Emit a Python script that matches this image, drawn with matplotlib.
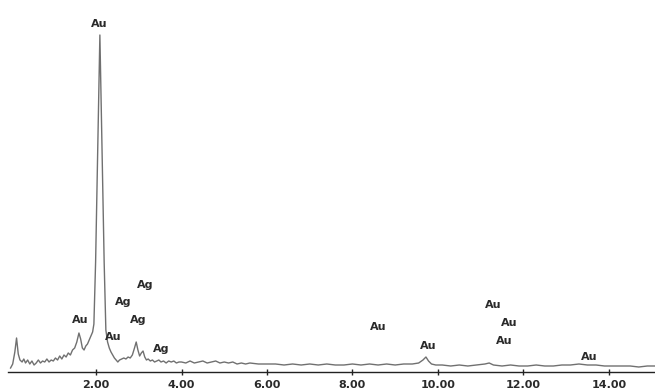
import matplotlib
matplotlib.use("Agg")
import matplotlib.pyplot as plt

energy = [0.00, 0.05, 0.10, 0.14, 0.18, 0.22, 0.27, 0.31, 0.35, 0.40, 0.45, 0.50, 0.55, 0.60,
          0.65, 0.70, 0.75, 0.80, 0.85, 0.90, 0.95, 1.00, 1.05, 1.10, 1.15, 1.20, 1.25, 1.30,
          1.35, 1.40, 1.45, 1.50, 1.55, 1.60, 1.64, 1.68, 1.72, 1.76, 1.80, 1.84, 1.88, 1.92,
          1.95, 1.99, 2.03, 2.06, 2.09, 2.12, 2.15, 2.19, 2.23, 2.27, 2.31, 2.35, 2.39, 2.43,
          2.47, 2.51, 2.55, 2.60, 2.65, 2.70, 2.75, 2.80, 2.85, 2.90, 2.94, 2.98, 3.02, 3.06,
          3.10, 3.14, 3.18, 3.22, 3.27, 3.32, 3.37, 3.42, 3.47, 3.52, 3.58, 3.64, 3.70, 3.76,
          3.82, 3.88, 3.94, 4.00, 4.10, 4.20, 4.30, 4.40, 4.50, 4.60, 4.70, 4.80, 4.90, 5.00,
          5.10, 5.20, 5.30, 5.40, 5.50, 5.60, 5.80, 6.00, 6.20, 6.40, 6.60, 6.80, 7.00, 7.20,
          7.40, 7.60, 7.80, 8.00, 8.20, 8.40, 8.60, 8.80, 9.00, 9.20, 9.40, 9.55, 9.65, 9.72,
          9.78, 9.85, 9.95, 10.10, 10.30, 10.50, 10.70, 10.90, 11.10, 11.20, 11.30, 11.50,
          11.70, 11.90, 12.10, 12.30, 12.50, 12.70, 12.90, 13.10, 13.30, 13.50, 13.70, 13.90,
          14.10, 14.30, 14.50, 14.70, 14.90, 15.10]
counts = [4, 8, 20, 34, 18, 12, 10, 13, 9, 12, 8, 11, 7, 9,
          12, 9, 11, 10, 13, 10, 12, 11, 14, 12, 16, 13, 17, 15,
          19, 17, 22, 24, 30, 39, 33, 24, 22, 26, 28, 32, 36, 40,
          48, 110, 200, 270, 337, 270, 200, 110, 42, 30, 24, 20, 17, 14,
          12, 10, 12, 13, 14, 13, 15, 14, 17, 24, 30, 22, 16, 19,
          21, 15, 12, 13, 11, 12, 10, 11, 12, 10, 11, 9, 11, 10,
          11, 9, 10, 10, 9, 11, 9, 10, 11, 9, 10, 11, 9, 10,
          9, 10, 8, 9, 8, 9, 8, 8, 8, 7, 8, 7, 8, 7,
          8, 7, 7, 8, 7, 8, 7, 8, 7, 8, 8, 9, 12, 15,
          11, 8, 7, 7, 6, 7, 6, 7, 8, 9, 7, 6,
          7, 6, 6, 7, 6, 6, 7, 7, 8, 7, 7, 6,
          6, 6, 6, 5, 6, 6]

label_text = ["Au", "Au", "Au", "Ag", "Ag", "Ag", "Ag", "Au", "Au", "Au", "Au", "Au", "Au"]
label_x = [2.07, 1.63, 2.40, 2.63, 3.15, 2.98, 3.52, 8.60, 9.77, 11.29, 11.66, 11.54, 13.53]
label_y = [348, 52, 35, 70, 87, 52, 23, 45, 26, 67, 49, 31, 15]

xticks = [2, 4, 6, 8, 10, 12, 14]
xticklabels = ["2.00", "4.00", "6.00", "8.00", "10.00", "12.00", "14.00"]

fig = plt.figure(figsize=(6.55, 3.92), dpi=100)
ax = fig.add_axes([8 / 655, 20 / 392, 647 / 655, 372 / 392])
ax.plot(energy, counts, color="#707070", lw=1.0)
for t, x, y in zip(label_text, label_x, label_y):
    ax.text(x, y, t, ha="center", va="center", fontsize=8, fontweight="bold", color="#2a2a2a")

ax.set_xlim(-0.06, 15.08)
ax.set_ylim(0, 372)
for s in ["top", "right", "left"]:
    ax.spines[s].set_visible(False)
ax.spines["bottom"].set_color("#222222")
ax.spines["bottom"].set_linewidth(1.0)
ax.set_yticks([])
ax.set_xticks(xticks)
ax.set_xticklabels(xticklabels, fontsize=8, fontweight="bold", color="#2a2a2a")
ax.tick_params(axis="x", direction="inout", length=5, width=1, color="#222222", pad=3)
fig.savefig("out.png", dpi=100)
